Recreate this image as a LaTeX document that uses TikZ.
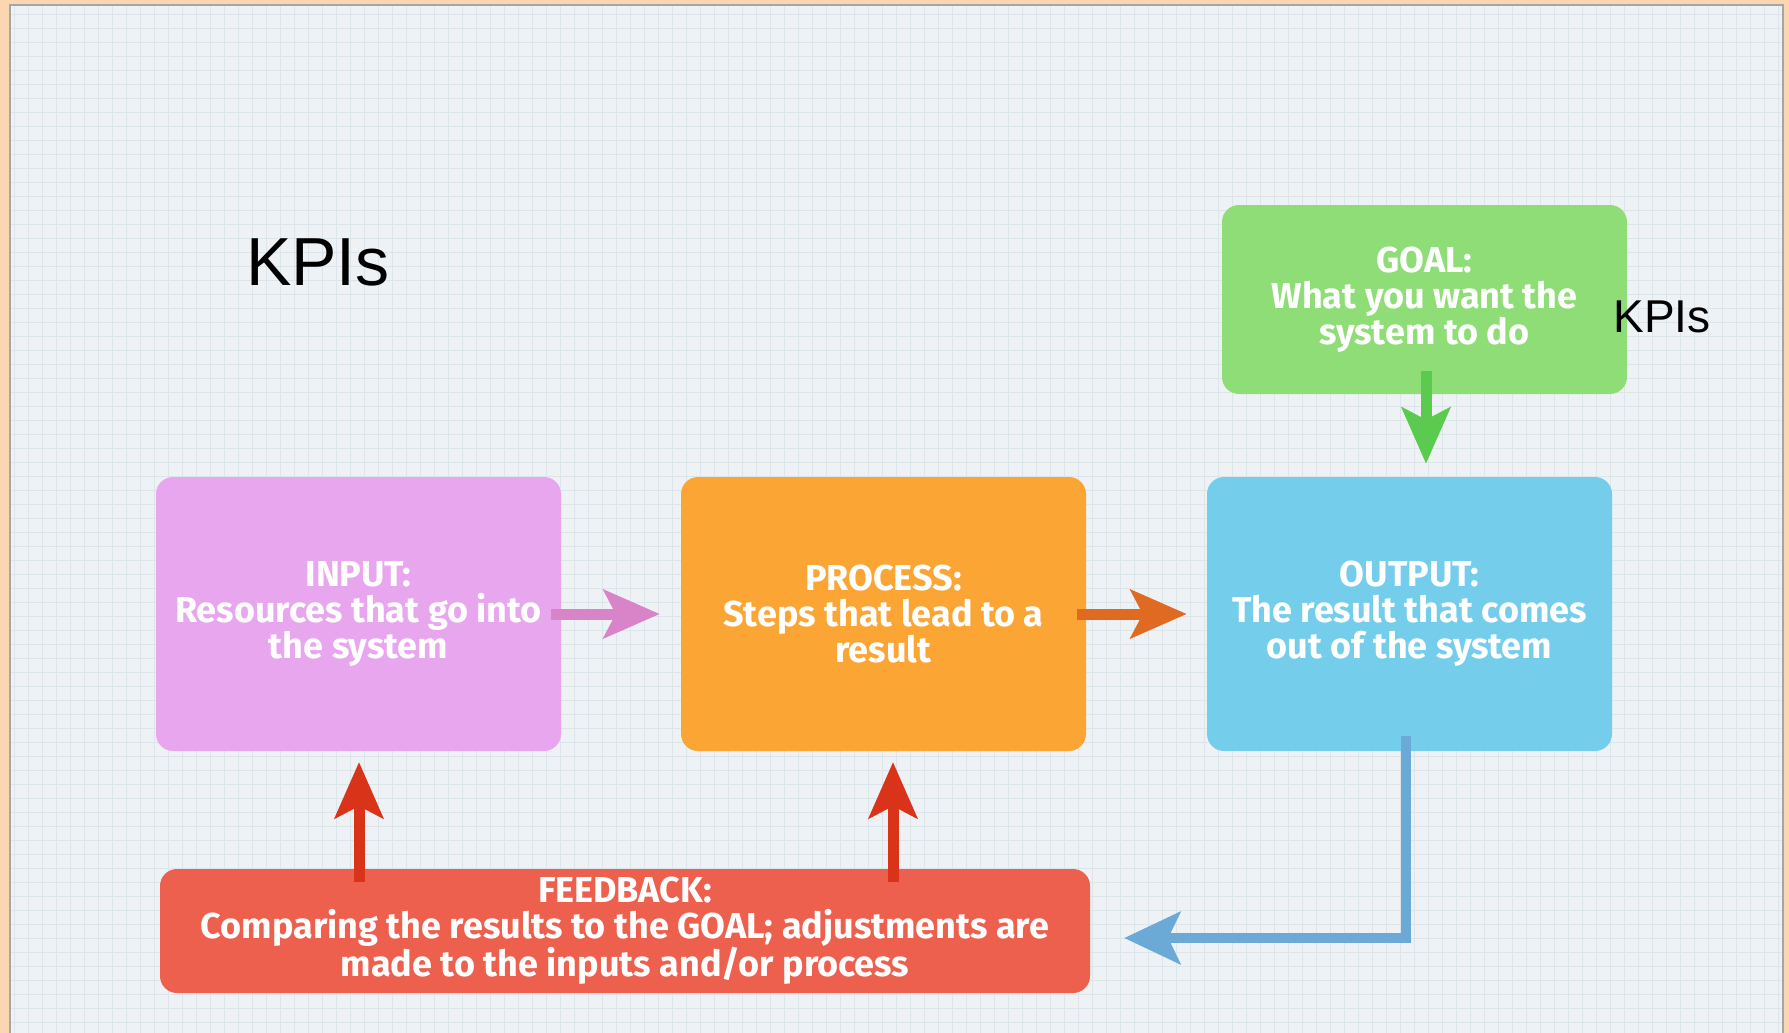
\documentclass[tikz,border=0pt]{standalone}
\usepackage{fontspec}
\setmainfont{Fira Sans}
\newfontfamily\kpifont{Liberation Sans}
\usetikzlibrary{arrows.meta,calc}
\definecolor{peach}{HTML}{FBD6B0}
\definecolor{paper}{HTML}{EEF2F4}
\definecolor{gridc}{HTML}{DCE5EA}
\definecolor{cin}{HTML}{E8A6EE}
\definecolor{cproc}{HTML}{FBA535}
\definecolor{cout}{HTML}{74CEEB}
\definecolor{cgoal}{HTML}{8EDD76}
\definecolor{cfb}{HTML}{EE604E}
\definecolor{apink}{HTML}{D983C8}
\definecolor{aorange}{HTML}{E06A22}
\definecolor{agreen}{HTML}{5ACB4F}
\definecolor{ared}{HTML}{D9341A}
\definecolor{ablue}{HTML}{6BAAD6}
\tikzset{
  boxnode/.style={rectangle, rounded corners=17pt, minimum width=405pt, minimum height=274pt,
    text=white, align=center, inner sep=0pt,
    font=\fontsize{36}{36}\selectfont\bfseries},
  flowarrow/.style={line width=11pt, -{Stealth[length=56pt,width=48pt,inset=12pt]}},
  kpi/.style={font=\kpifont, text=black, inner sep=0pt}
}
\begin{document}
\begin{tikzpicture}[x=1pt,y=-1pt]
\useasboundingbox (0,0) rectangle (1789,1033);
\fill[peach] (0,0) rectangle (1789,1033);
\fill[paper] (10,5) rectangle (1783,1040);
\begin{scope}
\clip (10,5) rectangle (1783,1033);
\draw[gridc, line width=0.8pt] (10,5) grid[step=14pt] (1783,1033);
\end{scope}
\draw[gray!70, line width=1.2pt] (10,1040) -- (10,5) -- (1783,5) -- (1783,1040);

\node[boxnode, fill=cin] (in) at (358.5,614) {INPUT:\\Resources that go into\\the system};
\node[boxnode, fill=cproc] (proc) at (883.5,614) {PROCESS:\\Steps that lead to a\\result};
\node[boxnode, fill=cout] (out) at (1409.5,614) {OUTPUT:\\The result that comes\\out of the system};
\node[boxnode, fill=cgoal, minimum height=189pt] (goal) at (1424.5,299.5) {GOAL:\\What you want the\\system to do};
\node[boxnode, fill=cfb, minimum width=930pt, minimum height=124pt] (fb) at (625,931) {FEEDBACK:\\Comparing the results to the GOAL; adjustments are\\made to the inputs and/or process};

\node[kpi, font=\kpifont\fontsize{68}{68}\selectfont] (kpi1) at (318,262) {KPIs};
\node[kpi, font=\kpifont\fontsize{46}{46}\selectfont] (kpi2) at (1662,317) {KPIs};

\draw[flowarrow, apink] ([xshift=-10pt]in.east) -- ([xshift=-21pt]proc.west);
\draw[flowarrow, aorange] ([xshift=-9pt]proc.east) -- ([xshift=-20pt]out.west);
\draw[flowarrow, agreen] ([xshift=1.5pt,yshift=23pt]goal.south) -- ([xshift=16.5pt,yshift=13pt]out.north);
\coordinate (r1) at (359,882);
\coordinate (r2) at (893,882);
\draw[flowarrow, ared] (r1) -- (r1 |- 0,762);
\draw[flowarrow, ared] (r2) -- (r2 |- 0,762);
\coordinate (bstart) at (1406,736);
\coordinate (bturn) at (1406,938);
\draw[ablue, line width=10pt, -{Stealth[length=56pt,width=52pt,inset=12pt]}] (bstart) -- (bturn) -- ([xshift=34pt]fb.east |- bturn);
\end{tikzpicture}
\end{document}
